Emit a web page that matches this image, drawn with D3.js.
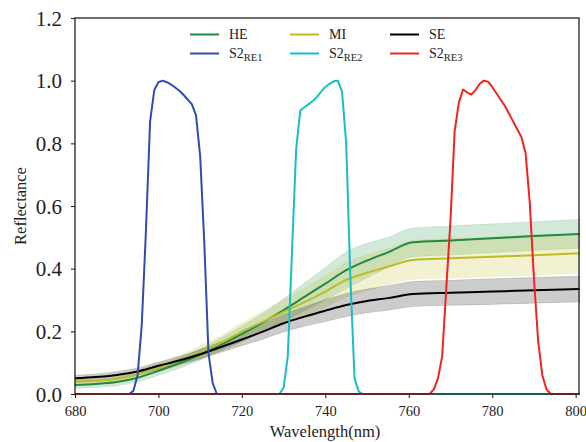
<!DOCTYPE html>
<html>
<head>
<meta charset="utf-8">
<script src="https://cdn.jsdelivr.net/npm/d3@7/dist/d3.min.js"></script>
<style>
  body { margin: 0; background: #fff; }
</style>
</head>
<body>
<svg width="586" height="442" font-family="'Liberation Serif'"></svg>
<script>
// mean reflectance samples (nm)
var wavelengths = [680, 685, 690, 695, 700, 705, 710, 715, 720, 725, 730, 735, 740, 745, 750, 755, 761, 770, 780, 790, 801];

var heMean = [0.029, 0.032, 0.038, 0.052, 0.074, 0.098, 0.126, 0.158, 0.192, 0.228, 0.268, 0.310, 0.352, 0.395, 0.426, 0.452, 0.484, 0.490, 0.497, 0.504, 0.511];
var heStd  = [0.011, 0.011, 0.012, 0.013, 0.014, 0.016, 0.018, 0.021, 0.025, 0.030, 0.036, 0.044, 0.052, 0.058, 0.055, 0.048, 0.046, 0.046, 0.046, 0.046, 0.046];

var miMean = [0.039, 0.042, 0.048, 0.062, 0.085, 0.106, 0.133, 0.163, 0.199, 0.230, 0.262, 0.293, 0.327, 0.364, 0.387, 0.406, 0.428, 0.433, 0.438, 0.443, 0.449];
var miStd  = [0.010, 0.010, 0.011, 0.012, 0.015, 0.017, 0.020, 0.024, 0.028, 0.033, 0.038, 0.044, 0.050, 0.055, 0.057, 0.058, 0.062, 0.063, 0.063, 0.064, 0.064];

var seMean = [0.050, 0.054, 0.061, 0.072, 0.090, 0.107, 0.127, 0.150, 0.174, 0.199, 0.226, 0.247, 0.266, 0.284, 0.297, 0.306, 0.319, 0.323, 0.327, 0.331, 0.335];
var seStd  = [0.010, 0.010, 0.011, 0.011, 0.012, 0.013, 0.015, 0.017, 0.020, 0.024, 0.028, 0.031, 0.035, 0.037, 0.038, 0.039, 0.040, 0.040, 0.041, 0.041, 0.041];

// Sentinel-2 red edge spectral response functions
var re1Wl  = [680, 693, 694, 695, 696, 697, 698, 699, 700, 701, 702, 703, 704, 705, 706, 707, 708, 709, 710, 711, 712, 713, 714, 801];
var re1Val = [0, 0, 0.01, 0.06, 0.22, 0.52, 0.87, 0.97, 0.995, 1.0, 0.995, 0.988, 0.978, 0.968, 0.955, 0.94, 0.925, 0.89, 0.76, 0.48, 0.13, 0.035, 0, 0];

var re2Wl  = [680, 729, 730, 731, 732, 733, 734, 735, 736, 737, 738, 739, 740, 741, 742, 743, 744, 745, 746, 747, 748, 749, 801];
var re2Val = [0, 0, 0.02, 0.12, 0.45, 0.78, 0.905, 0.915, 0.925, 0.935, 0.948, 0.965, 0.98, 0.99, 0.998, 1.0, 0.965, 0.80, 0.37, 0.05, 0.008, 0, 0];

var re3Wl  = [680, 765, 766, 767, 768, 769, 770, 771, 772, 773, 774, 775, 776, 777, 778, 779, 780, 781, 782, 783, 784, 785, 786, 787, 788, 789, 790, 791, 792, 793, 794, 801];
var re3Val = [0, 0, 0.015, 0.05, 0.12, 0.34, 0.555, 0.84, 0.93, 0.972, 0.962, 0.956, 0.97, 0.99, 1.0, 0.997, 0.98, 0.96, 0.94, 0.92, 0.895, 0.87, 0.845, 0.82, 0.768, 0.61, 0.37, 0.17, 0.06, 0.015, 0, 0];

var xTicks = [680, 700, 720, 740, 760, 780, 800];
var yTicks = [0.0, 0.2, 0.4, 0.6, 0.8, 1.0, 1.2];

var FONT = "'Liberation Serif'";

var svg = d3.select("svg"),
    margin = {top: 18, right: 7, bottom: 48, left: 75},
    width = +svg.attr("width") - margin.left - margin.right,
    height = +svg.attr("height") - margin.top - margin.bottom;

var x = d3.scaleLinear().domain([680, 800.8]).range([0, width]),
    y = d3.scaleLinear().domain([0, 1.2]).range([height, 0]);

var g = svg.append("g")
    .attr("transform", "translate(" + margin.left + "," + margin.top + ")");

var groups = [
  {name: "HE", mean: heMean, std: heStd, color: "#1f8a42"},
  {name: "MI", mean: miMean, std: miStd, color: "#bcbd22"},
  {name: "SE", mean: seMean, std: seStd, color: "#000000"}
];

var filters = [
  {sub: "RE1", wl: re1Wl, val: re1Val, color: "#2f4cae"},
  {sub: "RE2", wl: re2Wl, val: re2Val, color: "#17bfc4"},
  {sub: "RE3", wl: re3Wl, val: re3Val, color: "#f02222"}
];

var area = d3.area()
    .curve(d3.curveMonotoneX)
    .x(function(d) { return x(d.w); })
    .y0(function(d) { return y(d.m - d.s); })
    .y1(function(d) { return y(d.m + d.s); });

var meanLine = d3.line()
    .curve(d3.curveMonotoneX)
    .x(function(d) { return x(d.w); })
    .y(function(d) { return y(d.m); });

var filterLine = d3.line()
    .x(function(d) { return x(d.w); })
    .y(function(d) { return y(d.v); });

function rows(grp) {
  return wavelengths.map(function(w, i) { return {w: w, m: grp.mean[i], s: grp.std[i]}; });
}

// std bands
g.selectAll(".band")
    .data(groups)
    .enter().append("path")
    .attr("class", "band")
    .attr("d", function(d) { return area(rows(d)); })
    .attr("fill", function(d) { return d.color; })
    .attr("fill-opacity", 0.2)
    .attr("stroke", function(d) { return d.color; })
    .attr("stroke-opacity", 0.12)
    .attr("stroke-width", 1);

// mean lines
g.selectAll(".mean")
    .data(groups)
    .enter().append("path")
    .attr("class", "mean")
    .attr("d", function(d) { return meanLine(rows(d)); })
    .attr("fill", "none")
    .attr("stroke", function(d) { return d.color; })
    .attr("stroke-width", 2);

// filter responses
g.selectAll(".srf")
    .data(filters)
    .enter().append("path")
    .attr("class", "srf")
    .attr("d", function(d) {
      return filterLine(d.wl.map(function(w, i) { return {w: w, v: d.val[i]}; }));
    })
    .attr("fill", "none")
    .attr("stroke", function(d) { return d.color; })
    .attr("stroke-width", 2)
    .attr("stroke-linejoin", "round");

// axes
var xAxis = g.append("g")
    .attr("transform", "translate(0," + height + ")")
    .call(d3.axisBottom(x).tickValues(xTicks).tickFormat(d3.format("d"))
      .tickSize(4).tickSizeOuter(0).tickPadding(8));
xAxis.select(".domain").remove();
xAxis.selectAll("line").attr("stroke", "#222").attr("stroke-width", 1.1);

var yAxis = g.append("g")
    .call(d3.axisLeft(y).tickValues(yTicks).tickFormat(d3.format(".1f"))
      .tickSize(4).tickSizeOuter(0).tickPadding(9));
yAxis.select(".domain").remove();
yAxis.selectAll("line").attr("stroke", "#222").attr("stroke-width", 1.1);

xAxis.attr("font-family", null).attr("font-size", null);
yAxis.attr("font-family", null).attr("font-size", null);
xAxis.selectAll("text")
    .attr("font-family", FONT)
    .attr("font-size", 14.5)
    .attr("fill", "#222");
yAxis.selectAll("text")
    .attr("font-family", FONT)
    .attr("font-size", 21)
    .attr("dy", "0.34em")
    .attr("fill", "#222");

// frame
g.append("rect")
    .attr("width", width)
    .attr("height", height)
    .attr("fill", "none")
    .attr("stroke", "#222")
    .attr("stroke-width", 1.3);

// axis titles
svg.append("text")
    .attr("x", margin.left + width / 2 - 2)
    .attr("y", 437)
    .attr("text-anchor", "middle")
    .attr("font-family", FONT)
    .attr("font-size", 16.5)
    .attr("fill", "#222")
    .text("Wavelength(nm)");

svg.append("text")
    .attr("transform", "translate(26," + (margin.top + height / 2) + ") rotate(-90)")
    .attr("text-anchor", "middle")
    .attr("font-family", FONT)
    .attr("font-size", 16.5)
    .attr("fill", "#222")
    .text("Reflectance");

// legend (3 columns, filled column-wise)
var legendItems = [
  {label: "HE", color: groups[0].color},
  {label: "S2", sub: "RE1", color: filters[0].color},
  {label: "MI", color: groups[1].color},
  {label: "S2", sub: "RE2", color: filters[1].color},
  {label: "SE", color: groups[2].color},
  {label: "S2", sub: "RE3", color: filters[2].color}
];

var legend = svg.append("g").attr("class", "legend");
var item = legend.selectAll("g")
    .data(legendItems)
    .enter().append("g")
    .attr("transform", function(d, i) {
      return "translate(" + (190 + Math.floor(i / 2) * 100) + "," + (34.5 + (i % 2) * 19) + ")";
    });

item.append("line")
    .attr("x1", 0).attr("x2", 29)
    .attr("stroke", function(d) { return d.color; })
    .attr("stroke-width", 2);

var label = item.append("text")
    .attr("x", 39)
    .attr("dy", "0.35em")
    .attr("font-family", FONT)
    .attr("font-size", 14)
    .attr("fill", "#222");
label.append("tspan").text(function(d) { return d.label; });
label.filter(function(d) { return d.sub; })
    .append("tspan")
    .attr("dy", 3)
    .attr("font-size", 10.5)
    .text(function(d) { return d.sub; });
</script>
</body>
</html>
